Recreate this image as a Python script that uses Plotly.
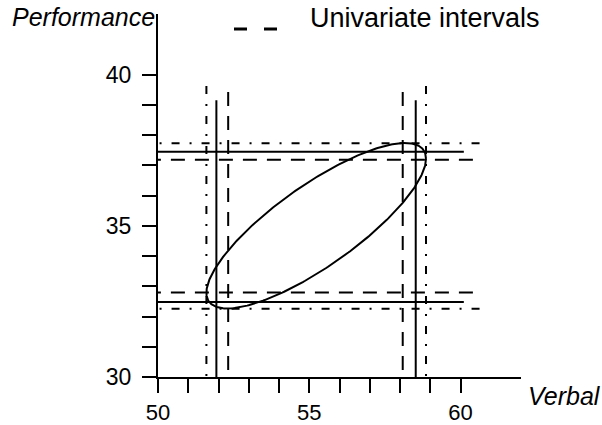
import numpy as np
import plotly.graph_objects as go

# ---- data ----
# interval limits (lower, upper) on each axis
joint_verbal = [51.93, 58.52]        # solid lines
joint_perf = [32.48, 37.45]
univ_verbal = [52.32, 58.09]         # dashed lines ("Univariate intervals")
univ_perf = [32.79, 37.18]
proj_verbal = [51.60, 58.86]         # dash-dot lines
proj_perf = [32.26, 37.73]

# how far each family of lines is drawn (top of verticals, right end of horizontals)
joint_ends = [39.15, 60.11]
univ_ends = [39.42, 60.41]
proj_ends = [39.62, 60.63]

# confidence ellipse: centre, half extents and correlation
ell_center = [55.23, 35.0]
ell_half = [3.63, 2.735]
ell_corr = 0.81

x_tick_vals = [50, 51, 52, 53, 54, 55, 56, 57, 58, 59, 60]
x_tick_text = ["50", "", "", "", "", "55", "", "", "", "", "60"]
y_tick_vals = [30, 31, 32, 33, 34, 35, 36, 37, 38, 39, 40]
y_tick_text = ["30", "", "", "", "", "35", "", "", "", "", "40"]

x_range = [50, 62]
y_range = [30, 42]

FONT = "Liberation Sans"


def interval_lines(vx, vy, ends):
    xs, ys = [], []
    for v in vx:
        xs += [v, v, None]
        ys += [ends[0], y_range[0], None]
    for v in vy:
        xs += [ends[1], x_range[0], None]
        ys += [v, v, None]
    return xs, ys


fig = go.Figure()

styles = [
    (proj_verbal, proj_perf, proj_ends, "8px,10px,2px,10px"),
    (univ_verbal, univ_perf, univ_ends, "14px,10px"),
    (joint_verbal, joint_perf, joint_ends, "solid"),
]
for vx, vy, ends, dash in styles:
    xs, ys = interval_lines(vx, vy, ends)
    fig.add_trace(go.Scatter(x=xs, y=ys, mode="lines", showlegend=False,
                             line=dict(color="black", width=2, dash=dash),
                             hoverinfo="skip"))

t = np.linspace(0, 2 * np.pi, 361)
delta = np.arccos(ell_corr)
ex = ell_center[0] + ell_half[0] * np.cos(t)
ey = ell_center[1] + ell_half[1] * np.cos(t - delta)
fig.add_trace(go.Scatter(x=ex, y=ey, mode="lines", showlegend=False,
                         line=dict(color="black", width=2)))

axis_common = dict(showline=True, linecolor="black", linewidth=2,
                   showgrid=False, zeroline=False, ticks="outside",
                   tickcolor="black", tickwidth=2, ticklen=14,
                   tickmode="array", fixedrange=True, automargin=False)

fig.update_xaxes(range=x_range, tickvals=x_tick_vals, ticktext=x_tick_text,
                 ticklabelstandoff=1,
                 tickfont=dict(family=FONT, size=22, color="black"),
                 **axis_common)
fig.update_yaxes(range=y_range, tickvals=y_tick_vals, ticktext=y_tick_text,
                 ticklabelstandoff=6,
                 tickfont=dict(family=FONT, size=23, color="black"),
                 **axis_common)

W, H = 602, 425
L, R, T, B = 158, 81, 14, 48
pw, ph = W - L - R, H - T - B


def px(xp):
    return (xp - L) / pw


def py(yp):
    return (H - B - yp) / ph


fig.update_layout(
    width=W, height=H,
    margin=dict(l=L, r=R, t=T, b=B, autoexpand=False),
    plot_bgcolor="white", paper_bgcolor="white",
    showlegend=False,
    annotations=[
        dict(text="<i>Performance</i>", xref="paper", yref="paper",
             x=px(157), y=py(17), xanchor="right", yanchor="middle",
             showarrow=False, font=dict(family=FONT, size=25, color="black")),
        dict(text="<i>Verbal</i>", xref="paper", yref="paper",
             x=px(526), y=py(396), xanchor="left", yanchor="middle",
             showarrow=False, font=dict(family=FONT, size=25, color="black")),
        dict(text="Univariate intervals", xref="paper", yref="paper",
             x=px(308), y=py(18), xanchor="left", yanchor="middle",
             showarrow=False, font=dict(family=FONT, size=27, color="black")),
    ],
    shapes=[
        dict(type="line", xref="paper", yref="paper",
             x0=px(234), x1=px(278), y0=py(29), y1=py(29),
             line=dict(color="black", width=3, dash="13px,17px")),
    ],
)

fig.write_html("out.html",
               config={"displayModeBar": False, "staticPlot": True},
               post_script="document.body.style.margin='0';"
                           "document.body.style.overflow='hidden';")
